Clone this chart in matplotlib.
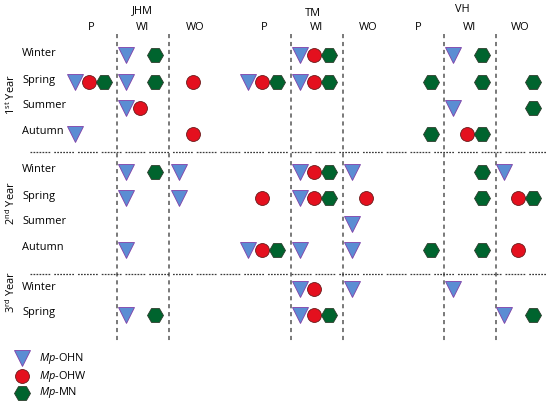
import matplotlib
matplotlib.use("Agg")
import matplotlib.pyplot as plt

plt.rcParams['font.family'] = ['Open Sans', 'DejaVu Sans']
plt.rcParams['mathtext.fontset'] = 'custom'
plt.rcParams['mathtext.rm'] = 'Open Sans'
plt.rcParams['mathtext.it'] = 'Open Sans:italic'

# ---- data ----
locations = ["JHM", "TM", "VH"]
habitats = ["P", "WI", "WO"]
species = ["Mp-OHN", "Mp-OHW", "Mp-MN"]
years = ["1st Year", "2nd Year", "3rd Year"]
seasons_per_year = [["Winter", "Spring", "Summer", "Autumn"],
                    ["Winter", "Spring", "Summer", "Autumn"],
                    ["Winter", "Spring"]]

# presence records: (year index, season, location, habitat, species index)
records = [
    # 1st year
    (0, "Winter", "JHM", "WI", 0), (0, "Winter", "JHM", "WI", 2),
    (0, "Winter", "TM", "WI", 0), (0, "Winter", "TM", "WI", 1), (0, "Winter", "TM", "WI", 2),
    (0, "Winter", "VH", "WI", 0), (0, "Winter", "VH", "WI", 2),
    (0, "Spring", "JHM", "P", 0), (0, "Spring", "JHM", "P", 1), (0, "Spring", "JHM", "P", 2),
    (0, "Spring", "JHM", "WI", 0), (0, "Spring", "JHM", "WI", 2),
    (0, "Spring", "JHM", "WO", 1),
    (0, "Spring", "TM", "P", 0), (0, "Spring", "TM", "P", 1), (0, "Spring", "TM", "P", 2),
    (0, "Spring", "TM", "WI", 0), (0, "Spring", "TM", "WI", 1), (0, "Spring", "TM", "WI", 2),
    (0, "Spring", "VH", "P", 2), (0, "Spring", "VH", "WI", 2), (0, "Spring", "VH", "WO", 2),
    (0, "Summer", "JHM", "WI", 0), (0, "Summer", "JHM", "WI", 1),
    (0, "Summer", "VH", "WI", 0), (0, "Summer", "VH", "WO", 2),
    (0, "Autumn", "JHM", "P", 0), (0, "Autumn", "JHM", "WO", 1),
    (0, "Autumn", "VH", "P", 2), (0, "Autumn", "VH", "WI", 1), (0, "Autumn", "VH", "WI", 2),
    # 2nd year
    (1, "Winter", "JHM", "WI", 0), (1, "Winter", "JHM", "WI", 2), (1, "Winter", "JHM", "WO", 0),
    (1, "Winter", "TM", "WI", 0), (1, "Winter", "TM", "WI", 1), (1, "Winter", "TM", "WI", 2),
    (1, "Winter", "TM", "WO", 0),
    (1, "Winter", "VH", "WI", 2), (1, "Winter", "VH", "WO", 0),
    (1, "Spring", "JHM", "WI", 0), (1, "Spring", "JHM", "WO", 0),
    (1, "Spring", "TM", "P", 1),
    (1, "Spring", "TM", "WI", 0), (1, "Spring", "TM", "WI", 1), (1, "Spring", "TM", "WI", 2),
    (1, "Spring", "TM", "WO", 1),
    (1, "Spring", "VH", "WI", 2), (1, "Spring", "VH", "WO", 1), (1, "Spring", "VH", "WO", 2),
    (1, "Summer", "TM", "WO", 0),
    (1, "Autumn", "JHM", "WI", 0),
    (1, "Autumn", "TM", "P", 0), (1, "Autumn", "TM", "P", 1), (1, "Autumn", "TM", "P", 2),
    (1, "Autumn", "TM", "WI", 0), (1, "Autumn", "TM", "WO", 0),
    (1, "Autumn", "VH", "P", 2), (1, "Autumn", "VH", "WI", 2), (1, "Autumn", "VH", "WO", 1),
    # 3rd year
    (2, "Winter", "TM", "WI", 0), (2, "Winter", "TM", "WI", 1), (2, "Winter", "TM", "WO", 0),
    (2, "Winter", "VH", "WI", 0),
    (2, "Spring", "JHM", "WI", 0), (2, "Spring", "JHM", "WI", 2),
    (2, "Spring", "TM", "WI", 0), (2, "Spring", "TM", "WI", 1), (2, "Spring", "TM", "WI", 2),
    (2, "Spring", "VH", "WO", 0), (2, "Spring", "VH", "WO", 2),
]

# ---- layout / style ----
group_start = {("JHM", "P"): 75, ("JHM", "WI"): 126, ("JHM", "WO"): 179,
               ("TM", "P"): 248, ("TM", "WI"): 300, ("TM", "WO"): 352,
               ("VH", "P"): 402, ("VH", "WI"): 453, ("VH", "WO"): 504}
slot_offset = [0, 13.5, 29]
loc_label_x = {"JHM": 142, "TM": 313, "VH": 462}
loc_label_y = {"JHM": 11, "TM": 13, "VH": 10}
row_y = [[55, 82, 108, 134], [172, 198, 224, 250], [289, 315]]
sep_y = [152, 274]
year_label_y = [95, 203, 292]

markers = ['v', 'o', 'H']
msizes = [11.0, 10.0, 11.5]
faces = ['#5B8DD3', '#E4101E', '#00642E']
edges = ['#8040A8', '#6A1A1A', '#2A3A2A']

fig = plt.figure(figsize=(5.5, 4.05), dpi=100)
ax = fig.add_axes([0, 0, 1, 1])
ax.set_xlim(0, 550)
ax.set_ylim(405, 0)
ax.axis('off')

fs = 7.9
# headers
for loc in locations:
    ax.text(loc_label_x[loc], loc_label_y[loc], loc, ha='center', va='center', fontsize=fs)
    for hab in habitats:
        ax.text(group_start[(loc, hab)] + 16, 28, hab, ha='center', va='center', fontsize=fs)

# vertical dashed lines around WI
for loc in locations:
    gx = group_start[(loc, "WI")]
    for xv in (gx - 9.5, gx + 43):
        ax.plot([xv, xv], [34, 341], color='#6E6E6E', lw=1.3,
                linestyle=(0, (2.3, 2.1)), zorder=1)

# horizontal separators
sep_dash = (0, (1.4, 1.0) * 6 + (1.4, 3.2))
for yv in sep_y:
    ax.plot([30, 546], [yv, yv], color='#3A3A3A', lw=0.9, linestyle=sep_dash, zorder=1)

# row labels and year labels
for yi, seasons in enumerate(seasons_per_year):
    for si, s in enumerate(seasons):
        ax.text(22, row_y[yi][si] - 2, s, ha='left', va='center', fontsize=fs)
year_tex = [r'1$^{\rm st}$ Year', r'2$^{\rm nd}$ Year', r'3$^{\rm rd}$ Year']
for yi, t in enumerate(year_tex):
    ax.text(11, year_label_y[yi], t, rotation=90, ha='center', va='center', fontsize=fs)

# markers
for (yi, season, loc, hab, sp) in records:
    si = seasons_per_year[yi].index(season)
    x = group_start[(loc, hab)] + slot_offset[sp]
    y = row_y[yi][si]
    ax.plot(x, y, marker=markers[sp], ms=msizes[sp], mfc=faces[sp], mec=edges[sp],
            mew=0.6, linestyle='none', zorder=3)

# legend
leg_y = [358, 376, 393]
leg_text = [r'$\it{Mp}$-OHN', r'$\it{Mp}$-OHW', r'$\it{Mp}$-MN']
for i in range(3):
    ax.plot(22, leg_y[i], marker=markers[i], ms=msizes[i], mfc=faces[i], mec=edges[i],
            mew=0.6, linestyle='none')
    ax.text(39, leg_y[i], leg_text[i], ha='left', va='center', fontsize=fs)

fig.savefig('out.png', dpi=100)
